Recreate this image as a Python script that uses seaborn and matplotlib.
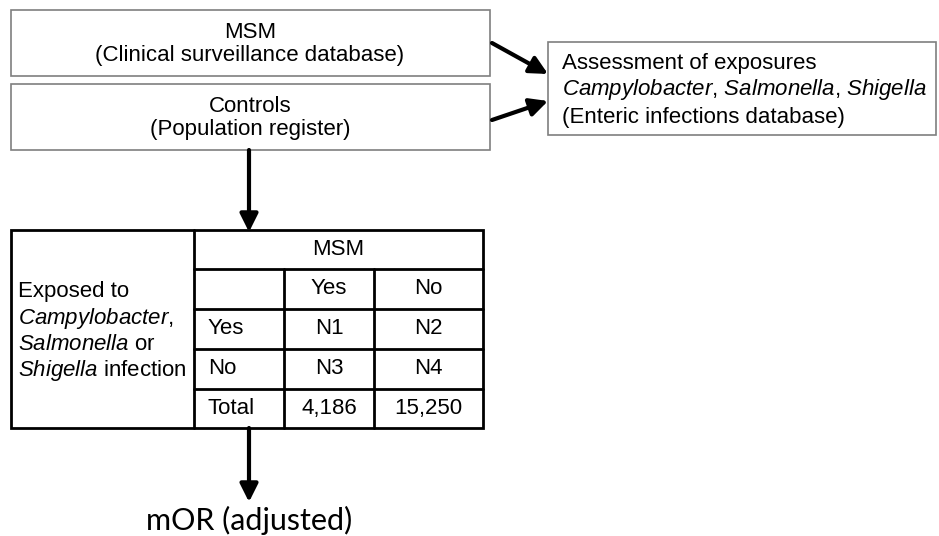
import numpy as np
import pandas as pd
import matplotlib.pyplot as plt
import seaborn as sns

# %% data (text of the flow chart)

source_boxes = [["MSM", "(Clinical surveillance database)"],
                ["Controls", "(Population register)"]]
exposure_lines = ["Assessment of exposures",
                  r"$\it{Campylobacter}$, $\it{Salmonella}$, $\it{Shigella}$",
                  "(Enteric infections database)"]
exposed_label = ["Exposed to", r"$\it{Campylobacter}$,",
                 r"$\it{Salmonella}$ or", r"$\it{Shigella}$ infection"]
group_header = "MSM"
col_labels = ["Yes", "No"]
row_labels = ["Yes", "No", "Total"]
cell_values = [["N1", "N2"], ["N3", "N4"], ["4,186", "15,250"]]
result_text = "mOR (adjusted)"

# %% style

sns.set_theme(style="white")
plt.rcParams['font.family'] = ['Liberation Sans', 'DejaVu Sans']
plt.rcParams['mathtext.fontset'] = 'custom'
plt.rcParams['mathtext.rm'] = 'Liberation Sans'
plt.rcParams['mathtext.it'] = 'Liberation Sans:italic'
plt.rcParams['text.color'] = 'black'

fig = plt.figure(figsize=(9.39, 5.36), dpi=100)
ax = fig.add_axes([0, 0, 1, 1])
ax.set_xlim(0, 939)
ax.set_ylim(536, 0)
ax.axis("off")

fs = 16
grey = "#7f7f7f"
txt = dict(fontsize=fs, color="black", va="center")

# top boxes
box_y = [(10, 76), (84, 150)]
for (y0, y1), lines in zip(box_y, source_boxes):
    ax.add_patch(plt.Rectangle((11, y0), 479, y1 - y0, fill=False, ec=grey, lw=1.2))
    ax.text(250, y0 + 22, lines[0], ha="center", **txt)
    ax.text(250, y0 + 45, lines[1], ha="center", **txt)

# exposure box
ax.add_patch(plt.Rectangle((548, 42), 388, 93, fill=False, ec=grey, lw=1.2))
for i, line in enumerate(exposure_lines):
    ax.text(562, 63 + i * 27, line, ha="left", **txt)

arrow_kw = dict(arrowstyle="-|>,head_length=0.9,head_width=0.45", lw=3, color="black",
                shrinkA=0, shrinkB=0)
ax.annotate("", xy=(548, 74), xytext=(492, 43), arrowprops=arrow_kw)
ax.annotate("", xy=(548, 101), xytext=(492, 120), arrowprops=arrow_kw)
ax.annotate("", xy=(249, 232), xytext=(249, 150), arrowprops=arrow_kw)
ax.annotate("", xy=(249, 502), xytext=(249, 428), arrowprops=arrow_kw)

# 2x2 table
xs = [11, 194, 284, 374, 483]
ys = [230, 269, 309, 349, 389, 428]
lw_t = 2
ax.add_patch(plt.Rectangle((xs[0], ys[0]), xs[-1] - xs[0], ys[-1] - ys[0], fill=False, ec="black", lw=lw_t))
ax.plot([xs[1], xs[1]], [ys[0], ys[-1]], color="black", lw=lw_t)
for y in ys[1:-1]:
    ax.plot([xs[1], xs[-1]], [y, y], color="black", lw=lw_t)
for x in xs[2:4]:
    ax.plot([x, x], [ys[1], ys[-1]], color="black", lw=lw_t)

ax.text((xs[1] + xs[-1]) / 2, (ys[0] + ys[1]) / 2, group_header, ha="center", **txt)
for j, lab in enumerate(col_labels):
    ax.text((xs[2 + j] + xs[3 + j]) / 2, (ys[1] + ys[2]) / 2, lab, ha="center", **txt)
for i, lab in enumerate(row_labels):
    yc = (ys[2 + i] + ys[3 + i]) / 2
    ax.text(xs[1] + 14, yc, lab, ha="left", **txt)
    for j, val in enumerate(cell_values[i]):
        ax.text((xs[2 + j] + xs[3 + j]) / 2, yc, val, ha="center", **txt)

for i, line in enumerate(exposed_label):
    ax.text(18, 292 + i * 26.3, line, ha="left", **txt)

ax.text(249, 520, result_text, ha="center", va="center", fontsize=22, family="Lato", color="black")

fig.savefig("out.png", dpi=100)
